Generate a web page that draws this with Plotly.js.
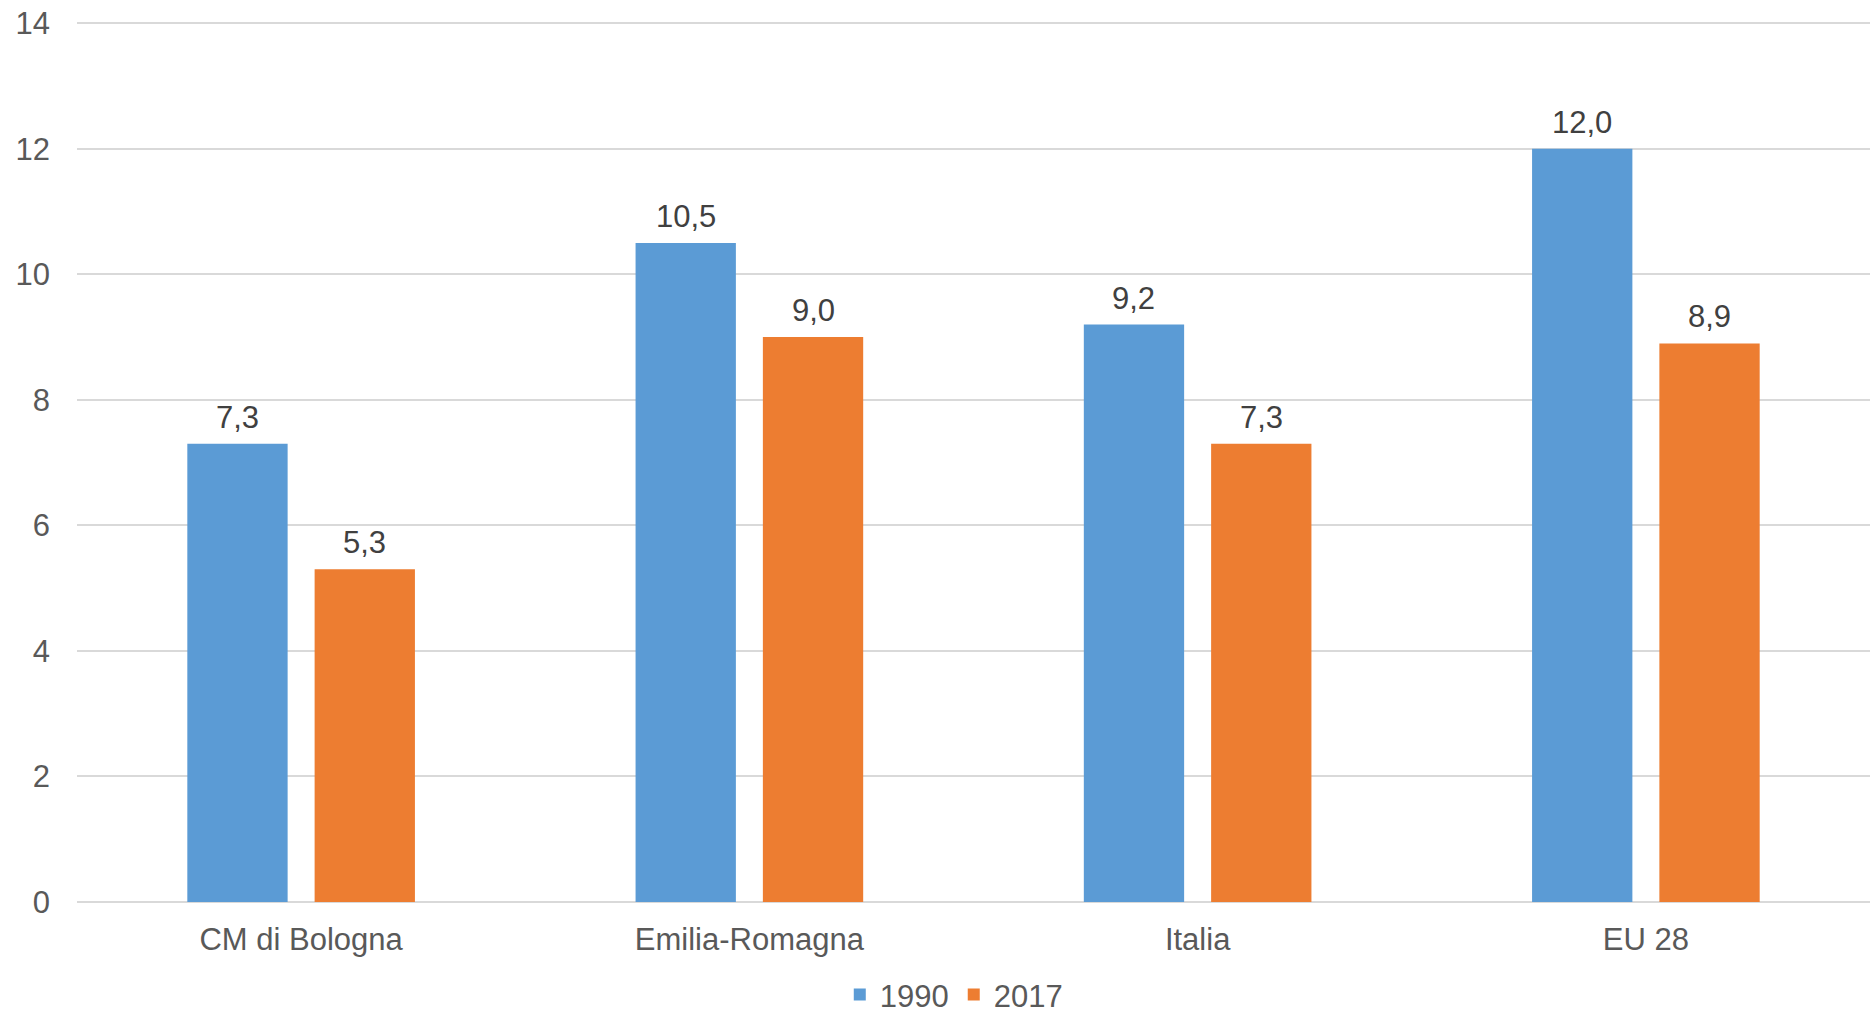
<!DOCTYPE html>
<html>
<head>
<meta charset="utf-8">
<script src="https://cdn.plot.ly/plotly-3.0.1.min.js"></script>
<style>html,body{margin:0;padding:0;background:#fff;}#chart{width:1870px;height:1016px;}</style>
</head>
<body>
<div id="chart"></div>
<script>
const categories = ["CM di Bologna", "Emilia-Romagna", "Italia", "EU 28"];
const values1990 = [7.3, 10.5, 9.2, 12.0];
const values2017 = [5.3, 9.0, 7.3, 8.9];
const seriesNames = ["1990", "2017"];
const yTicks = [0, 2, 4, 6, 8, 10, 12, 14];

const fmt = v => v.toFixed(1).replace(".", ",");
const FONT = "Liberation Sans, Arial, sans-serif";

const traces = [
  {type: "bar", name: seriesNames[0], x: categories, y: values1990,
   marker: {color: "#5B9BD5"}, hoverinfo: "x+y"},
  {type: "bar", name: seriesNames[1], x: categories, y: values2017,
   marker: {color: "#ED7D31"}, hoverinfo: "x+y"}
];

const annotations = [];
[values1990, values2017].forEach((vals, s) => {
  vals.forEach((v, i) => {
    annotations.push({
      x: categories[i], y: v, xref: "x", yref: "y",
      text: fmt(v), showarrow: false,
      xshift: s === 0 ? -63.75 : 63.75,
      yanchor: "bottom", yshift: 7,
      font: {family: FONT, size: 31, color: "#404040"}
    });
  });
});

const layout = {
  width: 1870, height: 1016,
  margin: {l: 77, r: 0, t: 17, b: 114, autoexpand: false},
  paper_bgcolor: "#ffffff", plot_bgcolor: "#ffffff",
  font: {family: FONT, size: 31, color: "#595959"},
  barmode: "group", bargap: 0.432, bargroupgap: 0.212,
  showlegend: true,
  legend: {orientation: "h", x: 0.489, xanchor: "center", y: -0.105, yanchor: "middle",
           font: {family: FONT, size: 31, color: "#595959"}, itemwidth: 30, traceorder: "normal"},
  xaxis: {type: "category", showgrid: false, showline: false, zeroline: false,
          ticks: "", ticklabelstandoff: 16,
          tickfont: {family: FONT, size: 31, color: "#595959"}},
  yaxis: {range: [0, 14.1], tickvals: yTicks, ticktext: yTicks.map(String),
          showgrid: true, gridcolor: "#d9d9d9", gridwidth: 2,
          zeroline: true, zerolinecolor: "#d9d9d9", zerolinewidth: 2,
          showline: false, ticks: "", ticklabelstandoff: 26,
          tickfont: {family: FONT, size: 31, color: "#595959"}},
  annotations: annotations
};

Plotly.newPlot("chart", traces, layout, {displayModeBar: false, staticPlot: true});
</script>
</body>
</html>
